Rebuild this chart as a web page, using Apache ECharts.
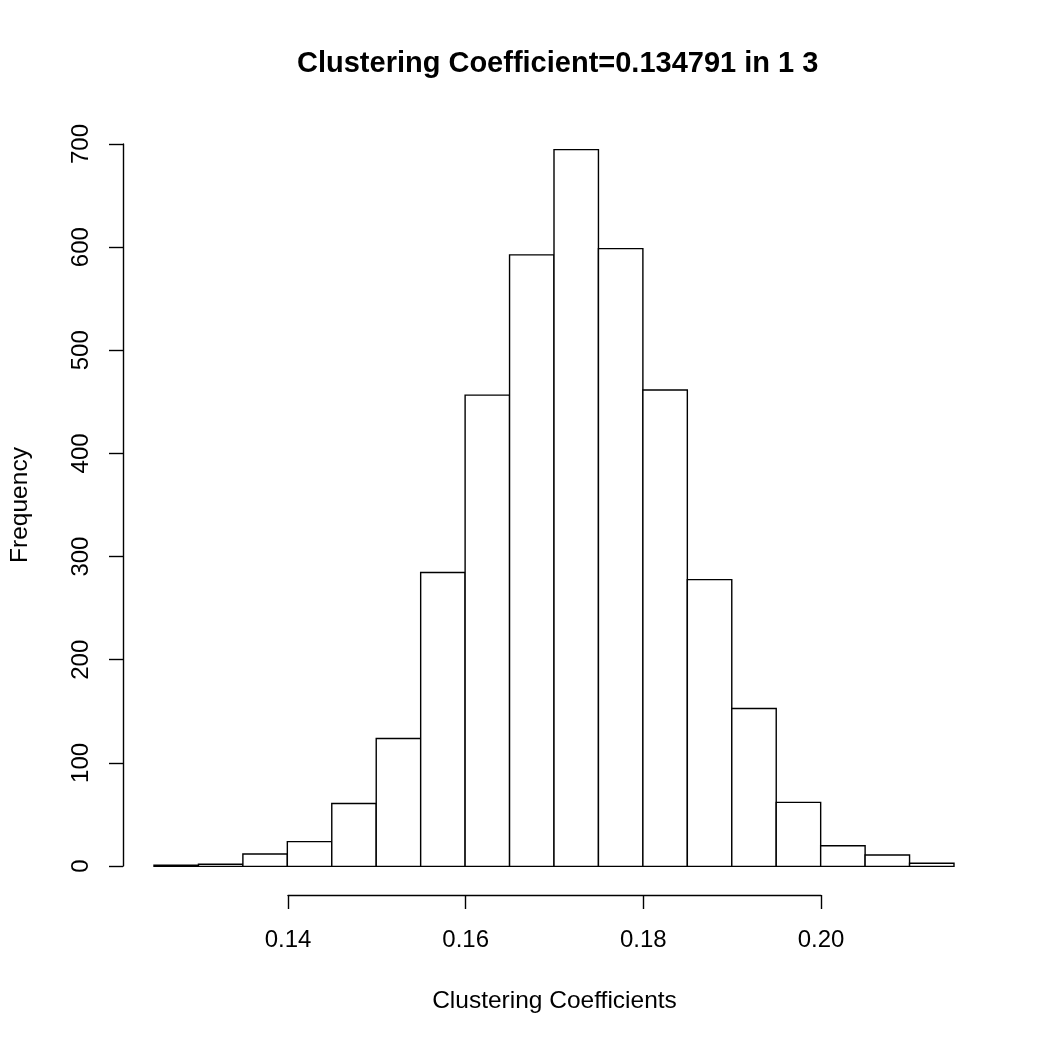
<!DOCTYPE html>
<html>
<head>
<meta charset="utf-8">
<script src="https://cdn.jsdelivr.net/npm/echarts@6/dist/echarts.min.js"></script>
<style>
  html, body { margin: 0; padding: 0; background: #fff; }
  #chart { width: 1048px; height: 1048px; }
</style>
</head>
<body>
<div id="chart"></div>
<script>
// histogram bins (left edges) and counts
var binLeft = [0.125, 0.130, 0.135, 0.140, 0.145, 0.150, 0.155, 0.160, 0.165,
               0.170, 0.175, 0.180, 0.185, 0.190, 0.195, 0.200, 0.205, 0.210];
var binWidth = 0.005;
var counts = [1, 2, 12, 24, 61, 124, 285, 457, 593, 695, 599, 462, 278, 153, 62, 20, 11, 3];
var xTicks = [0.14, 0.16, 0.18, 0.20];
var yTicks = [0, 100, 200, 300, 400, 500, 600, 700];

var font = 'Liberation Sans';
var chart = echarts.init(document.getElementById('chart'));

var barData = binLeft.map(function (x, i) { return [x, x + binWidth, counts[i]]; });

var option = {
  backgroundColor: '#fff',
  animation: false,
  title: {
    // centred over the plot region, not the page
    text: 'Clustering Coefficient=0.134791 in 1 3',
    left: 292,
    top: 44,
    textStyle: { fontFamily: font, fontSize: 29, fontWeight: 'bold', color: '#000' }
  },
  grid: [
    // plot region (R adds 4% on each side)
    { left: 122, right: 62, top: 121, bottom: 153 },
    // x axis drawn only over the tick range
    { left: 288, right: 227, top: 121, bottom: 153 },
    // y axis drawn only over the tick range
    { left: 122, right: 62, top: 144, bottom: 182 }
  ],
  xAxis: [
    { gridIndex: 0, type: 'value', min: 0.1214, max: 0.2186, show: false },
    {
      gridIndex: 1, type: 'value', min: xTicks[0], max: xTicks[xTicks.length - 1], interval: 0.02,
      position: 'bottom',
      axisLine: { show: true, lineStyle: { color: '#000', width: 1.4 } },
      axisTick: { show: true, length: 14, lineStyle: { color: '#000', width: 1.4 } },
      splitLine: { show: false },
      axisLabel: {
        color: '#000', fontFamily: font, fontSize: 24, margin: 33,
        formatter: function (v) { return v.toFixed(2); }
      },
      name: 'Clustering Coefficients',
      nameLocation: 'middle',
      nameGap: 94,
      nameTextStyle: { color: '#000', fontFamily: font, fontSize: 24.5 }
    },
    { gridIndex: 2, type: 'value', min: 0, max: 1, show: false }
  ],
  yAxis: [
    { gridIndex: 0, type: 'value', min: -27.8, max: 722.8, show: false },
    { gridIndex: 1, type: 'value', min: 0, max: 1, show: false },
    {
      gridIndex: 2, type: 'value', min: yTicks[0], max: yTicks[yTicks.length - 1], interval: 100,
      position: 'left',
      axisLine: { show: true, lineStyle: { color: '#000', width: 1.4 } },
      axisTick: { show: true, length: 14, lineStyle: { color: '#000', width: 1.4 } },
      splitLine: { show: false },
      axisLabel: {
        color: '#000', fontFamily: font, fontSize: 24, margin: 30, rotate: 90
      },
      name: 'Frequency',
      nameLocation: 'middle',
      nameGap: 90,
      nameTextStyle: { color: '#000', fontFamily: font, fontSize: 24.5 }
    }
  ],
  series: [{
    type: 'custom',
    xAxisIndex: 0,
    yAxisIndex: 0,
    data: barData,
    renderItem: function (params, api) {
      var p0 = api.coord([api.value(0), 0]);
      var p1 = api.coord([api.value(1), api.value(2)]);
      return {
        type: 'rect',
        shape: { x: p0[0], y: p1[1], width: p1[0] - p0[0], height: p0[1] - p1[1] },
        style: { fill: '#fff', stroke: '#000', lineWidth: 1.4 }
      };
    }
  }]
};
chart.setOption(option);
</script>
</body>
</html>
